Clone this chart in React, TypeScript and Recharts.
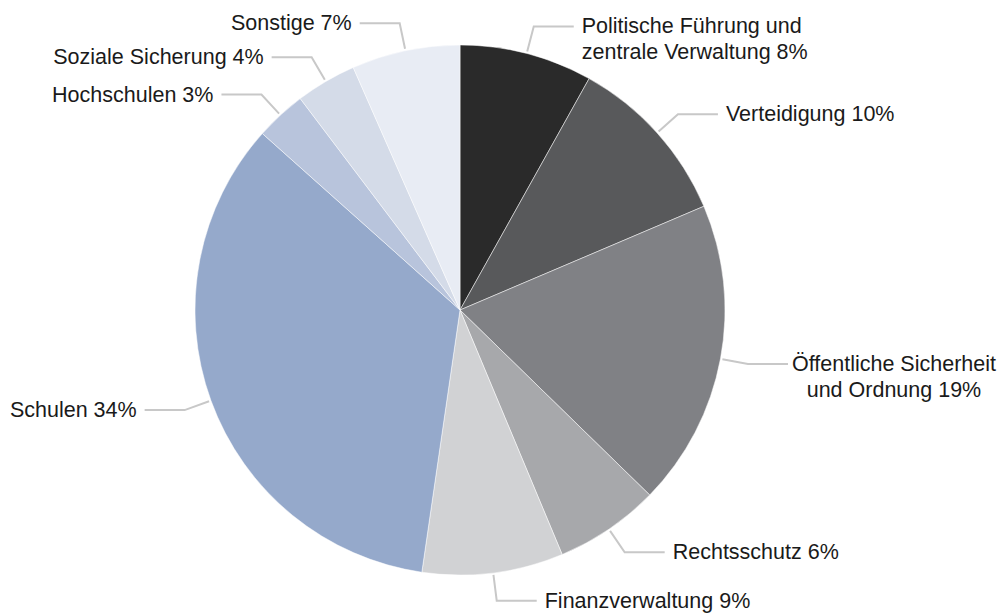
import { PieChart, Pie, Cell } from "recharts";

const names = [
  "Politische Führung und|zentrale Verwaltung",
  "Verteidigung",
  "Öffentliche Sicherheit|und Ordnung",
  "Rechtsschutz",
  "Finanzverwaltung",
  "Schulen",
  "Hochschulen",
  "Soziale Sicherung",
  "Sonstige",
];
const shares = [8.1, 10.5, 18.7, 6.4, 8.6, 34.3, 3.1, 3.7, 6.6];
const pctLabels = ["8%", "10%", "19%", "6%", "9%", "34%", "3%", "4%", "7%"];
const colors = [
  "#2a2a2a",
  "#58595b",
  "#808185",
  "#a7a8ab",
  "#d1d2d4",
  "#95a9cb",
  "#b8c4dc",
  "#d4dbe8",
  "#e8ecf4",
];

const data = names.map((name, i) => ({
  name,
  value: shares[i],
  pct: pctLabels[i],
}));

const RAD = Math.PI / 180;
const FONT = "'Helvetica Neue', Helvetica, Arial, 'Liberation Sans', sans-serif";

function renderLabel(props: any) {
  const { cx, cy, midAngle, outerRadius, index } = props;
  const cos = Math.cos(-midAngle * RAD);
  const sin = Math.sin(-midAngle * RAD);
  const sx = cx + (outerRadius + 2) * cos;
  const sy = cy + (outerRadius + 2) * sin;
  const mx = cx + (outerRadius + 28) * cos;
  const my = cy + (outerRadius + 28) * sin;
  const right = cos >= 0;
  const ex = mx + (right ? 40 : -40);
  const tx = ex + (right ? 8 : -8);
  const lines = (data[index].name + " " + data[index].pct).split("|");
  const centered = index === 2;
  const x = centered ? tx + 98 : tx;
  return (
    <g key={`lbl-${index}`}>
      <polyline
        points={`${sx},${sy} ${mx},${my} ${ex},${my}`}
        fill="none"
        stroke="#c8c8c8"
        strokeWidth={2}
      />
      <text
        x={x}
        y={my}
        textAnchor={centered ? "middle" : right ? "start" : "end"}
        dominantBaseline="central"
        fill="#1a1a1a"
        fontSize={21.5}
        fontFamily={FONT}
      >
        {lines.map((l, k) => (
          <tspan key={k} x={x} dy={k === 0 ? 0 : 26}>
            {l}
          </tspan>
        ))}
      </text>
    </g>
  );
}

export default function App() {
  return (
    <div style={{ position: "absolute", left: 0, top: 0, background: "#fff" }}>
      <PieChart
        width={1001}
        height={613}
        margin={{ top: 0, right: 0, bottom: 0, left: 0 }}
      >
        <Pie
          data={data}
          dataKey="value"
          cx={460}
          cy={310}
          outerRadius={265}
          startAngle={90}
          endAngle={-270}
          stroke="#ffffff"
          strokeWidth={0.5}
          label={renderLabel}
          labelLine={false}
          isAnimationActive={false}
        >
          {data.map((d, i) => (
            <Cell key={d.name} fill={colors[i]} />
          ))}
        </Pie>
      </PieChart>
    </div>
  );
}
